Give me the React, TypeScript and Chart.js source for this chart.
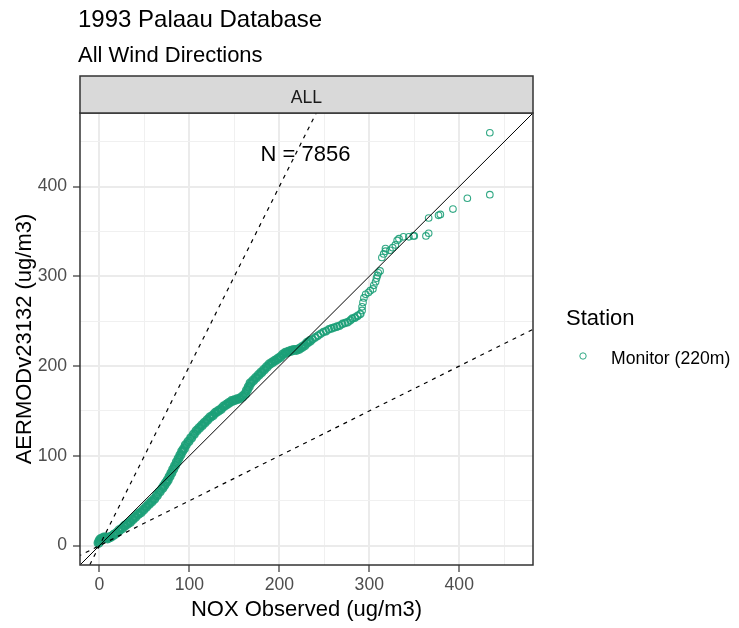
import React, { useEffect, useRef } from "react";
import { Chart, registerables } from "chart.js";
Chart.register(...registerables);

const FONT = "'Liberation Sans', Arial, Helvetica, sans-serif";

const titleText = "1993 Palaau Database";
const subtitleText = "All Wind Directions";
const stripLabel = "ALL";
const xAxisTitle = "NOX Observed (ug/m3)";
const yAxisTitle = "AERMODv23132 (ug/m3)";
const legendTitle = "Station";
const seriesName = "Monitor (220m)";
const annotationText = "N = 7856";
const annotationPos = [229, 435];

const axisMin = -21.6;
const axisMax = 482;
const majorTicks = [0, 100, 200, 300, 400];
const minorTicks = [50, 150, 250, 350, 450];

// quantile pairs (observed, modeled)
const observed = [
  -1, 0, 1, 3, 5, 7, 9, 11, 13, 16, 19, 22, 25, 28, 31, 34, 37, 40, 43, 46, 49, 52, 55, 58, 61, 64, 67, 70,
  72, 74, 76, 78, 80, 82, 84, 86, 88, 90, 92, 94, 96, 99, 102, 105, 108, 111, 114, 117, 120, 123, 126, 129,
  132, 135, 138, 141, 144, 147, 150, 153, 156, 159, 162, 164, 166, 168, 171, 174, 177, 180, 183, 186, 189,
  192, 195, 198, 201, 204, 207, 210, 213, 216, 219, 222, 225, 228, 231, 234, 237, 240, 243, 246, 249, 252,
  255, 258, 261, 264, 267, 270, 273, 276, 279, 281, 284, 287, 290, 292, 292, 293, 294, 296, 299, 301, 304,
  305, 307, 308, 309, 310, 312, 314, 316, 318, 318, 323, 326, 329, 331, 333, 338, 344, 349, 350, 363, 366,
  366, 377, 379, 393, 409, 434, 434,
];
const modeled = [
  3, 5, 7, 8, 9, 9, 8, 9, 10, 12, 14, 17, 19, 22, 24, 26, 29, 32, 35, 37, 40, 43, 46, 49, 52, 56, 60, 64,
  67, 70, 73, 77, 81, 85, 89, 93, 97, 101, 105, 108, 112, 116, 120, 124, 128, 131, 134, 137, 140, 143, 145,
  148, 150, 152, 155, 157, 159, 161, 162, 163, 164, 166, 169, 173, 177, 181, 184, 187, 190, 193, 196, 199,
  202, 204, 206, 208, 210, 213, 215, 216, 217, 218, 218, 219, 221, 223, 226, 228, 230, 232, 234, 236, 238,
  239, 241, 242, 243, 244, 245, 247, 248, 249, 251, 253, 254, 256, 258, 262, 266, 271, 276, 280, 282, 284,
  286, 290, 294, 298, 301, 304, 306, 321, 325, 328, 331, 329, 332, 335, 340, 342, 344, 344, 345, 345, 345,
  348, 365, 368, 369, 375, 387, 391, 460,
];

const refSlopes = [1, 2, 0.5];
const refLineX = [-60, 520];

const GREEN = "rgba(27,158,119,0.9)";

export default function App() {
  const ref = useRef<HTMLCanvasElement | null>(null);

  useEffect(() => {
    const canvas = ref.current;
    if (!canvas) return;

    const points = observed.map((x, i) => ({ x, y: modeled[i] }));

    const refDatasets = refSlopes.map((s) => ({
      type: "line" as const,
      label: "ref" + s,
      data: refLineX.map((x) => ({ x, y: x * s })),
      borderColor: "#000",
      borderWidth: s === 1 ? 1 : 1.2,
      borderDash: s === 1 ? [] : [4, 5],
      pointRadius: 0,
      fill: false,
      order: 0,
    }));

    const deco = {
      id: "deco",
      beforeDraw(chart: any) {
        const c = chart.ctx;
        c.save();
        c.fillStyle = "#fff";
        c.fillRect(0, 0, chart.width, chart.height);
        c.restore();
      },
      afterDraw(chart: any) {
        const c = chart.ctx;
        const a = chart.chartArea;
        c.save();
        c.strokeStyle = "#333";
        c.lineWidth = 1.5;
        c.strokeRect(a.left, a.top, a.right - a.left, a.bottom - a.top);
        const sTop = a.top - 37;
        c.fillStyle = "#d9d9d9";
        c.fillRect(a.left, sTop, a.right - a.left, 37);
        c.strokeRect(a.left, sTop, a.right - a.left, 37);
        c.fillStyle = "#1a1a1a";
        c.font = `17.6px ${FONT}`;
        c.textAlign = "center";
        c.textBaseline = "alphabetic";
        c.fillText(stripLabel, (a.left + a.right) / 2, sTop + 27);
        c.fillStyle = "#000";
        c.textAlign = "left";
        c.font = `24px ${FONT}`;
        c.fillText(titleText, 78, 27);
        c.font = `22px ${FONT}`;
        c.fillText(subtitleText, 78, 62);
        const xs = chart.scales.x;
        const ys = chart.scales.y;
        c.textAlign = "center";
        c.textBaseline = "middle";
        c.font = `22px ${FONT}`;
        c.fillText(annotationText, xs.getPixelForValue(annotationPos[0]), ys.getPixelForValue(annotationPos[1]));
        c.textAlign = "left";
        c.textBaseline = "alphabetic";
        c.font = `22px ${FONT}`;
        c.fillText(legendTitle, 566, 325);
        c.font = `17.6px ${FONT}`;
        c.fillText(seriesName, 611, 364);
        c.beginPath();
        c.arc(583, 356, 3.2, 0, Math.PI * 2);
        c.strokeStyle = GREEN;
        c.lineWidth = 1;
        c.stroke();
        c.restore();
      },
    };

    const allTicks = [...majorTicks, ...minorTicks].sort((p, q) => p - q);
    const isMajor = (v: number) => majorTicks.includes(v);

    const mkScale = (axis: "x" | "y") => ({
      type: "linear" as const,
      min: axisMin,
      max: axisMax,
      afterBuildTicks: (s: any) => {
        s.ticks = allTicks.map((v) => ({ value: v }));
      },
      afterFit: (s: any) => {
        if (axis === "x") s.height = 63;
        else s.width = 80;
      },
      grid: {
        color: (ctx: any) => (isMajor(ctx.tick?.value) ? "#ebebeb" : "#f0f0f0"),
        lineWidth: (ctx: any) => (isMajor(ctx.tick?.value) ? 2 : 1),
        tickColor: (ctx: any) => (isMajor(ctx.tick?.value) ? "#333" : "rgba(0,0,0,0)"),
        tickLength: 7,
        tickWidth: 1.2,
      },
      border: { display: false },
      ticks: {
        autoSkip: false,
        maxRotation: 0,
        padding: axis === "x" ? 3 : 6,
        color: "#4d4d4d",
        font: { family: FONT, size: 17.6 },
        callback: (v: any) => (isMajor(v) ? String(v) : ""),
      },
      title: {
        display: true,
        text: axis === "x" ? xAxisTitle : yAxisTitle,
        color: "#000",
        font: { family: FONT, size: 22 },
        padding: axis === "x" ? { top: 0, bottom: 5 } : { top: 12, bottom: 0 },
      },
    });

    const density = (ctx: any) => {
      const x = ctx.raw ? ctx.raw.x : 999;
      if (x < 235) return 2;
      if (x < 292) return 1;
      return 0;
    };

    const chart = new Chart(canvas, {
      type: "scatter",
      data: {
        datasets: [
          ...refDatasets,
          {
            label: seriesName,
            data: points,
            order: 1,
            pointStyle: "circle",
            pointRadius: (ctx: any) => [3.4, 3.4, 3.3][2 - density(ctx)],
            pointBorderWidth: (ctx: any) => [1.1, 1.8, 3.2][density(ctx)],
            pointBorderColor: GREEN,
            pointBackgroundColor: "rgba(0,0,0,0)",
            showLine: false,
          } as any,
        ],
      },
      options: {
        animation: false,
        responsive: false,
        devicePixelRatio: 1,
        layout: { padding: { left: 0, right: 206, top: 113, bottom: 0 } },
        plugins: { legend: { display: false }, tooltip: { enabled: false }, title: { display: false } },
        scales: { x: mkScale("x"), y: mkScale("y") } as any,
      },
      plugins: [deco],
    });

    return () => chart.destroy();
  }, []);

  return (
    <div style={{ position: "fixed", left: 0, top: 0, width: 739, height: 628 }}>
      <canvas ref={ref} width={739} height={628} style={{ width: 739, height: 628, display: "block" }} />
    </div>
  );
}
